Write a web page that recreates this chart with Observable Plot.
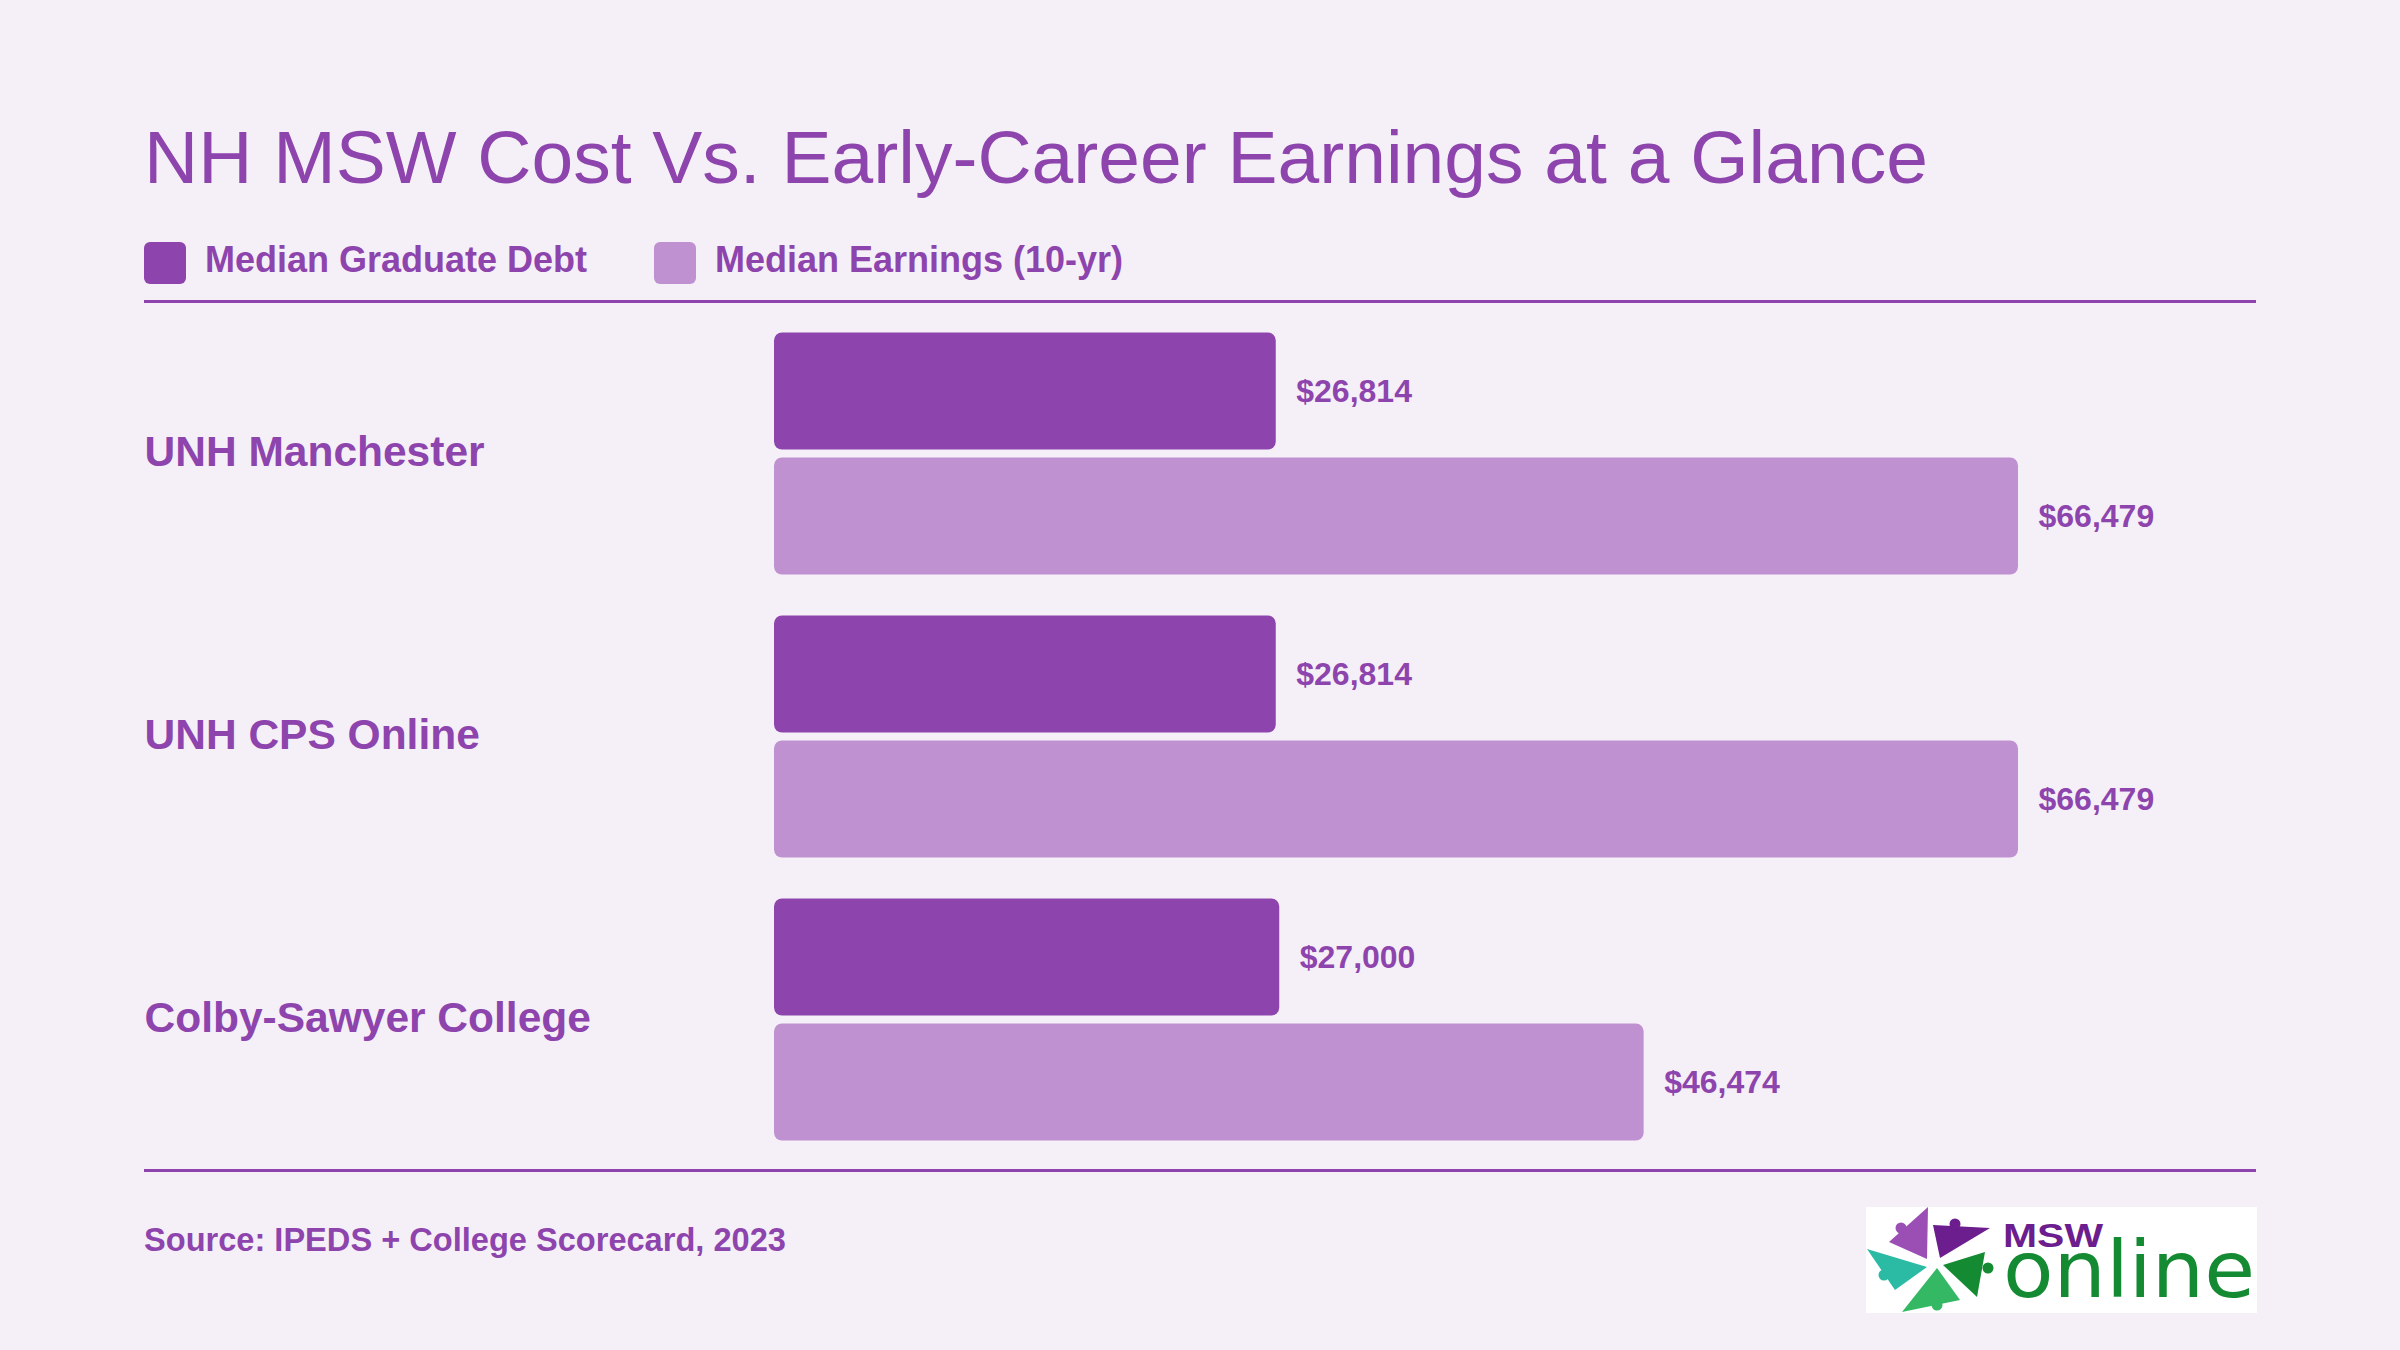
<!DOCTYPE html>
<html>
<head>
<meta charset="utf-8">
<script src="https://cdn.jsdelivr.net/npm/d3@7"></script>
<script src="https://cdn.jsdelivr.net/npm/@observablehq/plot@0.6"></script>
<style>
  html, body { margin:0; padding:0; }
  body { width:2400px; height:1350px; background:#F5F0F8; position:relative; overflow:hidden;
         font-family:"Liberation Sans", Arial, Helvetica, sans-serif; color:#8E44AD; }
  .abs { position:absolute; }
  #title { left:144px; top:112px; font-size:75px; font-weight:normal; line-height:90px; white-space:nowrap; }
  .sw { width:42px; height:42px; border-radius:6px; top:242px; }
  .lg { top:239px; font-size:36px; font-weight:bold; line-height:42px; white-space:nowrap; }
  .rule { left:144px; width:2112px; height:3px; background:#8E44AD; }
  #source { left:144px; top:1220px; font-size:32.6px; font-weight:bold; line-height:40px; white-space:nowrap; }
  #chart { left:0; top:0; }
  #logo { left:0; top:0; }
</style>
</head>
<body>
<div id="title" class="abs">NH MSW Cost Vs. Early-Career Earnings at a Glance</div>
<div class="abs sw" style="left:144px;background:#8E44AD"></div>
<div class="abs lg" style="left:205px">Median Graduate Debt</div>
<div class="abs sw" style="left:654px;background:#BF91D0"></div>
<div class="abs lg" style="left:715px">Median Earnings (10-yr)</div>
<div class="abs rule" style="top:300px"></div>
<div class="abs rule" style="top:1169px"></div>
<div id="chart" class="abs"></div>
<div id="source" class="abs">Source: IPEDS + College Scorecard, 2023</div>
<svg id="logo" class="abs" width="2400" height="1350" style="pointer-events:none">
  <rect x="1866" y="1207" width="391" height="106" fill="#ffffff"/>
  <g>
    <polygon points="1889,1242 1928,1207 1927,1259" fill="#9B4FB5"/>
    <circle cx="1901" cy="1228" r="5.5" fill="#9B4FB5"/>
    <polygon points="1933,1225 1990,1228 1940,1258" fill="#6C1D8E"/>
    <circle cx="1955" cy="1224" r="5.5" fill="#6C1D8E"/>
    <polygon points="1867,1249 1927,1267 1895,1290" fill="#2BBBA5"/>
    <circle cx="1884" cy="1275" r="5.5" fill="#2BBBA5"/>
    <polygon points="1902,1312 1937,1268 1960,1300" fill="#34B864"/>
    <circle cx="1937" cy="1305" r="5.5" fill="#34B864"/>
    <polygon points="1943,1265 1985,1252 1977,1297" fill="#148A32"/>
    <circle cx="1988" cy="1268" r="5.5" fill="#148A32"/>
  </g>
  <text x="2003" y="1247" font-family="Liberation Sans, Arial, sans-serif" font-weight="bold" font-size="34" fill="#6C1D8E" textLength="100" lengthAdjust="spacingAndGlyphs">MSW</text>
  <text x="2003" y="1297" font-family="DejaVu Sans, Liberation Sans, sans-serif" font-size="78" fill="#148A32" textLength="252" lengthAdjust="spacingAndGlyphs">online</text>
</svg>
<script>
const schools = ["UNH Manchester", "UNH CPS Online", "Colby-Sawyer College"];
const seriesNames = ["Median Graduate Debt", "Median Earnings (10-yr)"];
const debt = [26814, 26814, 27000];
const earnings = [66479, 66479, 46474];
const seriesColors = ["#8E44AD", "#BF91D0"];

const rows = [];
schools.forEach((s, i) => {
  rows.push({school: s, series: seriesNames[0], value: debt[i]});
  rows.push({school: s, series: seriesNames[1], value: earnings[i]});
});

const fmt = d3.format(",");
const chart = Plot.plot({
  width: 2400,
  height: 1350,
  marginLeft: 774,
  marginRight: 382,
  marginTop: 311.5,
  marginBottom: 189.5,
  style: {background: "transparent", fontFamily: "Liberation Sans, Arial, Helvetica, sans-serif", overflow: "visible"},
  x: {domain: [0, d3.max(earnings)], axis: null},
  y: {domain: seriesNames, paddingInner: 0.064, paddingOuter: 0.164, axis: null},
  fy: {domain: schools, padding: 0, axis: null},
  color: {domain: seriesNames, range: seriesColors},
  marks: [
    Plot.barX(rows, {x: "value", y: "series", fy: "school", fill: "series", rx: 8, ry: 8}),
    Plot.text(rows, {x: "value", y: "series", fy: "school", text: d => "$" + fmt(d.value),
      dx: 20, textAnchor: "start", fill: "#8E44AD", fontSize: 32, fontWeight: "bold"}),
    Plot.text(schools, {fy: d => d, text: d => d, frameAnchor: "left", dx: -630, dy: -1.5,
      textAnchor: "start", fill: "#8E44AD", fontSize: 42.5, fontWeight: "bold"})
  ]
});
document.getElementById("chart").appendChild(chart);
</script>
</body>
</html>
